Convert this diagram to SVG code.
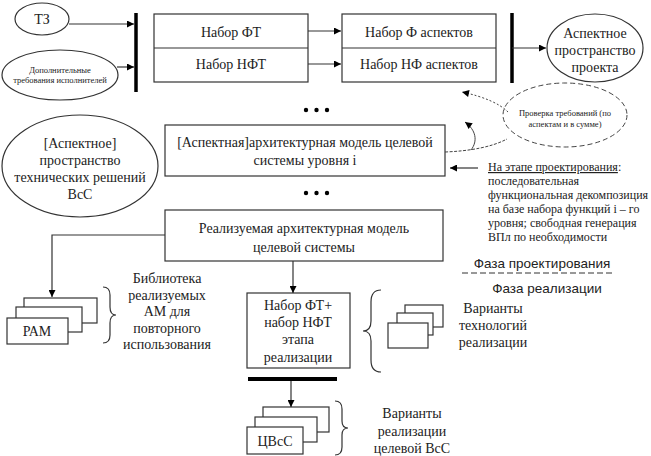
<svg xmlns="http://www.w3.org/2000/svg" width="651" height="456" viewBox="0 0 651 456" font-family="'Liberation Serif', 'DejaVu Serif', serif">
<defs>
<marker id="ah" viewBox="0 0 10 10" refX="10" refY="5" markerWidth="8" markerHeight="7" markerUnits="userSpaceOnUse" orient="auto">
<path d="M0,0 L10,5 L0,10 z" fill="#000"/>
</marker>
<style>
text{font-family:'Liberation Serif','DejaVu Serif',serif}
.s{font-size:14px;fill:#222;text-anchor:middle}
.sm{font-size:8.5px;fill:#222;text-anchor:middle}
.p{font-size:12px;fill:#222}
text.sans{font-family:'Liberation Sans',Arial,sans-serif;font-size:13.5px;fill:#222;text-anchor:middle}
.b{fill:#fff;stroke:#333;stroke-width:1.2}
.l{fill:none;stroke:#333;stroke-width:1.2}
.bar{stroke:#000;stroke-width:3.5}
</style>
</defs>
<rect width="651" height="456" fill="#fff"/>

<g id="tz"><ellipse class="b" cx="42" cy="19" rx="27" ry="16"/><text class="s" x="42" y="24" font-size="15">ТЗ</text></g>
<g id="dop"><ellipse class="b" cx="60" cy="75" rx="58" ry="25"/><text class="sm" x="60" y="73">Дополнительные</text><text class="sm" x="60" y="83">требования исполнителей</text></g>
<g id="bar1"><line class="bar" x1="136" y1="13" x2="136" y2="92"/></g>
<g id="ft"><rect class="b" x="154" y="14" width="154" height="68"/><line class="l" x1="154" y1="48" x2="308" y2="48"/><text class="s" x="231" y="37">Набор ФТ</text><text class="s" x="231" y="69">Набор НФТ</text></g>
<g id="asp"><rect class="b" x="342" y="14" width="154" height="68"/><line class="l" x1="342" y1="48" x2="496" y2="48"/><text class="s" x="419" y="37">Набор Ф аспектов</text><text class="s" x="419" y="69">Набор НФ аспектов</text></g>
<g id="bar2"><line class="bar" x1="512" y1="13" x2="512" y2="83"/></g>
<g id="aspp"><ellipse class="b" cx="595" cy="48" rx="48" ry="34"/><text class="s" x="595" y="38">Аспектное</text><text class="s" x="595" y="55">пространство</text><text class="s" x="595" y="72">проекта</text></g>
<g id="check"><ellipse cx="565" cy="115" rx="62" ry="32" fill="none" stroke="#444" stroke-width="1" stroke-dasharray="5,3"/><text class="sm" x="565" y="116" font-size="9">Проверка требований (по</text><text class="sm" x="565" y="127" font-size="9">аспектам и в сумме)</text></g>
<g id="dots1"><circle cx="306" cy="110" r="2.2"/><circle cx="316.5" cy="110" r="2.2"/><circle cx="327" cy="110" r="2.2"/></g>
<g id="am"><rect class="b" x="165" y="125" width="280" height="51"/><text class="s" x="305" y="147">[Аспектная]архитектурная модель целевой</text><text class="s" x="305" y="165">системы уровня i</text></g>
<g id="dots2"><circle cx="306" cy="193" r="2.2"/><circle cx="316.5" cy="193" r="2.2"/><circle cx="327" cy="193" r="2.2"/></g>
<g id="tech"><ellipse class="b" cx="80" cy="166" rx="78" ry="51"/><text class="s" x="80" y="148">[Аспектное]</text><text class="s" x="80" y="165">пространство</text><text class="s" x="80" y="182">технических решений</text><text class="s" x="80" y="199">ВсС</text></g>
<g id="note"><text class="p" x="488" y="171"><tspan text-decoration="underline">На этапе проектирования</tspan>:</text><text class="p" x="488" y="185">последовательная</text><text class="p" x="488" y="199">функциональная декомпозиция</text><text class="p" x="488" y="213">на базе набора функций i – го</text><text class="p" x="488" y="227">уровня; свободная генерация</text><text class="p" x="488" y="241">ВПл по необходимости</text></g>
<g id="phase"><text class="sans" x="542" y="268">Фаза проектирования</text><line x1="462" y1="273" x2="615" y2="273" stroke="#333" stroke-width="1" stroke-dasharray="6,3"/><text class="sans" x="547" y="293">Фаза реализации</text></g>
<g id="ram-model"><rect class="b" x="165" y="210" width="278" height="51"/><text class="s" x="304" y="233">Реализуемая архитектурная модель</text><text class="s" x="304" y="252">целевой системы</text></g>
<g id="ram"><rect class="b" x="24" y="298" width="73" height="25"/><rect class="b" x="16" y="307" width="66" height="25"/><rect class="b" x="7" y="318" width="61" height="26"/><text class="s" x="37" y="336">РАМ</text></g>
<g id="lib"><path class="l" d="M103,287 Q110,287 110,295 L110,307 Q110,315 116,315 Q110,315 110,323 L110,335 Q110,343 103,343"/><text class="s" x="167" y="283">Библиотека</text><text class="s" x="167" y="299.5">реализуемых</text><text class="s" x="167" y="316">АМ для</text><text class="s" x="167" y="332.5">повторного</text><text class="s" x="167" y="349">использования</text></g>
<g id="nabor"><rect class="b" x="247" y="293" width="103" height="75"/><text class="s" x="298" y="310">Набор ФТ+</text><text class="s" x="298" y="327">набор НФТ</text><text class="s" x="298" y="344">этапа</text><text class="s" x="298" y="362">реализации</text></g>
<g id="bar3"><line x1="248" y1="379" x2="337" y2="379" stroke="#000" stroke-width="4"/></g>
<g id="techvar"><path class="l" d="M381,290 Q371,290 371,302 L371,321 Q371,331 363,331 Q371,331 371,341 L371,360 Q371,372 381,372"/><rect class="b" x="405" y="305" width="38" height="22"/><rect class="b" x="397" y="313" width="36" height="22"/><rect class="b" x="388" y="323" width="40" height="25"/><text class="s" x="493" y="313">Варианты</text><text class="s" x="493" y="330">технологий</text><text class="s" x="493" y="347">реализации</text></g>
<g id="cvsc"><rect class="b" x="263" y="407" width="66" height="25"/><rect class="b" x="255" y="417" width="62" height="25"/><rect class="b" x="247" y="427" width="56" height="27"/><text class="s" x="275" y="446">ЦВсС</text><path class="l" d="M335,401 Q342,401 342,409 L342,421 Q342,428 348,428 Q342,428 342,435 L342,447 Q342,455 335,455"/><text class="s" x="412" y="418">Варианты</text><text class="s" x="412" y="436">реализации</text><text class="s" x="412" y="453">целевой ВсС</text></g>

<g id="connectors">
<line class="l" x1="69" y1="24" x2="134" y2="24" marker-end="url(#ah)"/>
<line class="l" x1="117" y1="67" x2="134" y2="67" marker-end="url(#ah)"/>
<line class="l" x1="308" y1="31" x2="341" y2="31" marker-end="url(#ah)"/>
<line class="l" x1="308" y1="64" x2="341" y2="64" marker-end="url(#ah)"/>
<line class="l" x1="512" y1="48" x2="546" y2="48" marker-end="url(#ah)"/>
<path d="M508,112 C500,104 485,97 462,92" fill="none" stroke="#444" stroke-width="1" stroke-dasharray="2,2" marker-end="url(#ah)"/>
<path d="M445,152 C470,151 492,147 507,139" fill="none" stroke="#444" stroke-width="1" stroke-dasharray="3,1.5"/>
<path d="M471,150 C478,141 476,130 465,122" fill="none" stroke="#444" stroke-width="1" marker-end="url(#ah)"/>
<line class="l" x1="478" y1="168" x2="450" y2="168" marker-end="url(#ah)"/>
<polyline class="l" points="165,235 52,235 52,297" marker-end="url(#ah)"/>
<line class="l" x1="293" y1="261" x2="293" y2="293" marker-end="url(#ah)"/>
<line class="l" x1="291" y1="381" x2="291" y2="407" marker-end="url(#ah)"/>
</g>
</svg>
